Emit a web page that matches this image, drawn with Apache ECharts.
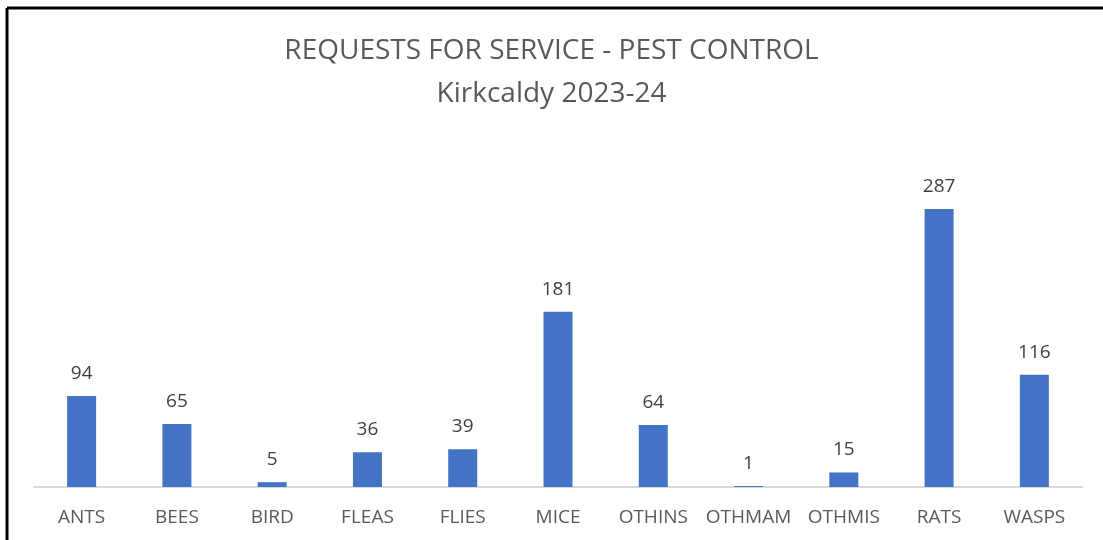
<!DOCTYPE html>
<html>
<head>
<meta charset="utf-8">
<script src="https://cdn.jsdelivr.net/npm/echarts@6/dist/echarts.min.js"></script>
<style>
  html, body { margin: 0; padding: 0; background: #fff; }
  #chart { width: 1103px; height: 540px; }
</style>
</head>
<body>
<div id="chart"></div>
<script>
const categories = ['ANTS', 'BEES', 'BIRD', 'FLEAS', 'FLIES', 'MICE', 'OTHINS', 'OTHMAM', 'OTHMIS', 'RATS', 'WASPS']
const requests = [94, 65, 5, 36, 39, 181, 64, 1, 15, 287, 116]

const chart = echarts.init(document.getElementById('chart'))
const font = 'Open Sans, Liberation Sans, sans-serif'

chart.setOption({
  animation: false,
  title: {
    text: 'REQUESTS FOR SERVICE - PEST CONTROL\nKirkcaldy 2023-24',
    left: 'center',
    top: 25,
    textStyle: {
      color: '#595959',
      fontFamily: font,
      fontWeight: 'normal',
      fontSize: 28,
      lineHeight: 43
    }
  },
  // frame of the chart area (left and top only are visible)
  graphic: [
    {
      type: 'line',
      shape: { x1: 7, y1: 8, x2: 1103, y2: 8 },
      style: { stroke: '#000', lineWidth: 3 }
    },
    {
      type: 'line',
      shape: { x1: 7, y1: 8, x2: 7, y2: 540 },
      style: { stroke: '#000', lineWidth: 3 }
    }
  ],
  grid: {
    left: 34,
    right: 21,
    top: 148,
    bottom: 53,
    containLabel: false
  },
  xAxis: {
    type: 'category',
    data: categories,
    axisLine: { lineStyle: { color: '#d9d9d9', width: 2 } },
    axisTick: { show: false },
    axisLabel: {
      color: '#595959',
      fontFamily: font,
      fontSize: 19,
      margin: 21,
      interval: 0
    }
  },
  yAxis: {
    type: 'value',
    min: 0,
    max: 350,
    show: false
  },
  series: [
    {
      name: 'Requests',
      type: 'bar',
      data: requests,
      barWidth: 29,
      itemStyle: { color: '#4472c4' },
      label: {
        show: true,
        position: 'top',
        distance: 13,
        color: '#404040',
        fontFamily: font,
        fontSize: 19
      }
    }
  ]
})
</script>
</body>
</html>
